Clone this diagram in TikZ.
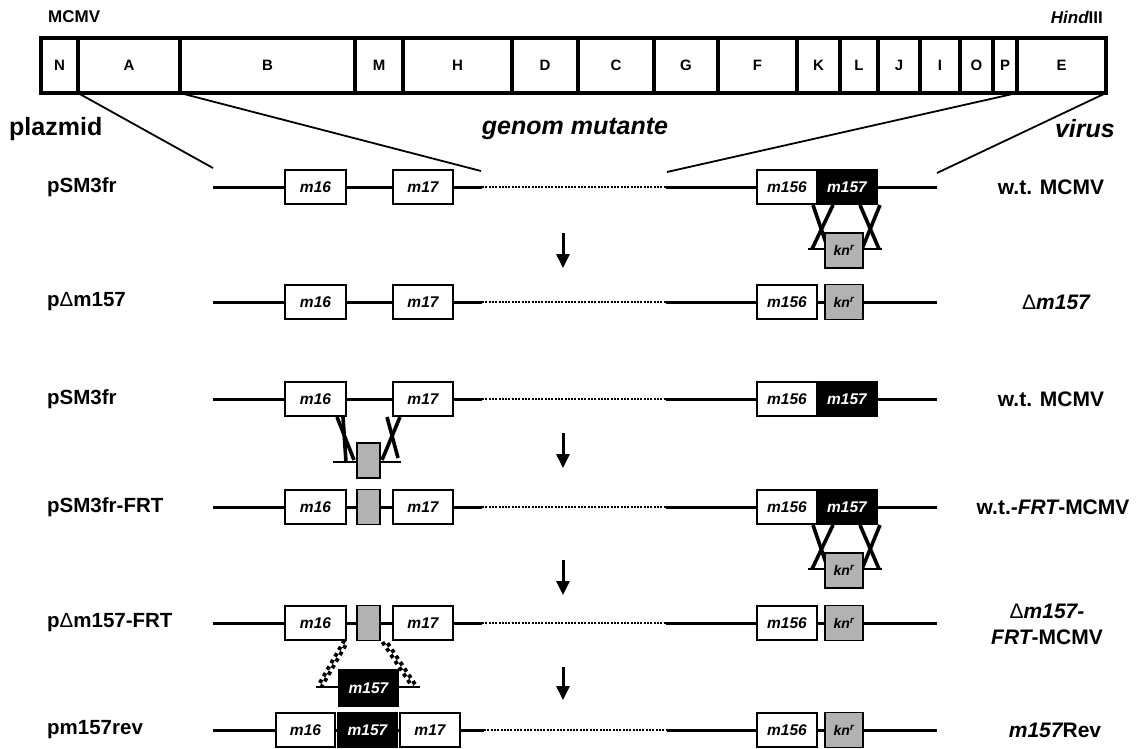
\documentclass[tikz,border=0pt]{standalone}
\usepackage{fontspec}
\setmainfont{Liberation Sans}
\usetikzlibrary{arrows.meta}
\definecolor{kngray}{RGB}{178,178,178}
\newcommand{\mybackbone}[4]{%
  \coordinate (#1a) at (213,#2);
  \coordinate (#1b) at (#3,#2);
  \coordinate (#1c) at (#4,#2);
  \coordinate (#1d) at (937,#2);
  \draw[dna] (#1a) -- (#1b);
  \draw[dnadot] (#1b) -- (#1c);
  \draw[dna] (#1c) -- (#1d);}
\newcommand{\myknxo}[2]{% #1 prefix, #2 row y
  \coordinate (#1p1) at (813,#2+18);  \coordinate (#1q1) at (828,#2+62);
  \coordinate (#1p2) at (833,#2+18);  \coordinate (#1q2) at (812,#2+62);
  \coordinate (#1p3) at (860,#2+18);  \coordinate (#1q3) at (879,#2+62);
  \coordinate (#1p4) at (880,#2+18);  \coordinate (#1q4) at (862,#2+62);
  \coordinate (#1f1) at (808,#2+62);  \coordinate (#1f2) at (826,#2+62);
  \coordinate (#1f3) at (862,#2+62);  \coordinate (#1f4) at (882,#2+62);
  \draw[xo] (#1p1) -- (#1q1); \draw[xo] (#1p2) -- (#1q2);
  \draw[xo] (#1p3) -- (#1q3); \draw[xo] (#1p4) -- (#1q4);
  \draw[flank] (#1f1) -- (#1f2); \draw[flank] (#1f3) -- (#1f4);
  \node[cass, minimum width=38pt] (#1kn) at (844,#2+63.5) {\knr};}
\newcommand{\knr}{{\itshape kn\textsuperscript{r}}}
\begin{document}
\begin{tikzpicture}[x=1pt,y=-1pt,
  seg/.style={draw, line width=3.2pt, minimum height=55pt, inner sep=0pt, outer sep=0pt,
    font=\fontsize{15}{18}\selectfont\bfseries},
  gene/.style={draw, line width=1.2pt, fill=white, minimum height=34pt, inner sep=0pt,
    font=\fontsize{15.5}{18}\selectfont\bfseries\itshape},
  geneblk/.style={gene, fill=black, text=white},
  cass/.style={draw, line width=1.2pt, fill=kngray, minimum height=35pt, inner sep=0pt,
    font=\fontsize{14}{16}\selectfont\bfseries},
  dna/.style={line width=3pt},
  dnadot/.style={line width=2.6pt, dash pattern=on 2pt off 1.3pt},
  zoomline/.style={line width=1.8pt},
  xo/.style={line width=3.6pt},
  flank/.style={line width=2.2pt},
  checker/.style={line width=3.8pt, dash pattern=on 3.8pt off 3.8pt},
  checkertwo/.style={checker, dash phase=3.8pt},
  stepar/.style={line width=3pt, -{Triangle[length=14pt,width=13pt]}},
  lbl/.style={font=\fontsize{20.5}{24}\selectfont\bfseries, anchor=west, inner sep=0pt},
  rlbl/.style={font=\fontsize{21}{26}\selectfont\bfseries, align=center, inner sep=0pt},
  big/.style={font=\fontsize{25}{28}\selectfont\bfseries, inner sep=0pt},
  small/.style={font=\fontsize{17}{20}\selectfont\bfseries, inner sep=0pt}
]
\useasboundingbox (0,0) rectangle (1141,748);
\fill[white] (0,0) rectangle (1141,748);

% ---- top map ----
\node[small, anchor=west] (mcmv) at (48,17) {MCMV};
\node[small, anchor=east] (hind) at (1103,17) {{\itshape Hind}III};
\node[seg, minimum width=37pt]  (sN) at (59.5,65.5) {N};
\node[seg, minimum width=102pt] (sA) at (129,65.5) {A};
\node[seg, minimum width=175pt] (sB) at (267.5,65.5) {B};
\node[seg, minimum width=48pt]  (sM) at (379,65.5) {M};
\node[seg, minimum width=109pt] (sH) at (457.5,65.5) {H};
\node[seg, minimum width=66pt]  (sD) at (545,65.5) {D};
\node[seg, minimum width=76pt]  (sC) at (616,65.5) {C};
\node[seg, minimum width=64pt]  (sG) at (686,65.5) {G};
\node[seg, minimum width=79pt]  (sF) at (757.5,65.5) {F};
\node[seg, minimum width=43pt]  (sK) at (818.5,65.5) {K};
\node[seg, minimum width=38pt]  (sL) at (859,65.5) {L};
\node[seg, minimum width=42pt]  (sJ) at (899,65.5) {J};
\node[seg, minimum width=40pt]  (sI) at (940,65.5) {I};
\node[seg, minimum width=33pt]  (sO) at (976.5,65.5) {O};
\node[seg, minimum width=24pt]  (sP) at (1005,65.5) {P};
\node[seg, minimum width=89pt]  (sE) at (1061.5,65.5) {E};

\coordinate (z1) at (213,168);
\coordinate (z2) at (481,171);
\coordinate (z3) at (667,172);
\coordinate (z4) at (937,173);
\draw[zoomline] (sN.south east) -- (z1);
\draw[zoomline] (sA.south east) -- (z2);
\draw[zoomline] (sP.south east) -- (z3);
\draw[zoomline] (sE.south east) -- (z4);

\node[big, anchor=west] (plaz) at (9,129) {plazmid};
\node[big] (genom) at (575,129) {\itshape genom mutante};
\node[big, anchor=east] (virus) at (1115,129) {\itshape virus};

% ---- row 1 ----
\mybackbone{r1}{187}{482}{666}
\node[gene, minimum width=61pt] (r1m16) at (315.5,187) {m16};
\node[gene, minimum width=60pt] (r1m17) at (423,187) {m17};
\node[gene, minimum width=60pt] (r1m156) at (787,187) {m156};
\node[geneblk, minimum width=60pt] (r1m157) at (847,187) {m157};
\myknxo{r1x}{187}
\node[lbl] (l1) at (47,187) {pSM3fr};
\node[rlbl] (t1) at (1051,187) {w.t. MCMV};

\coordinate (a1s) at (563,233); \coordinate (a1e) at (563,268);
\draw[stepar] (a1s) -- (a1e);

% ---- row 2 ----
\mybackbone{r2}{302}{482}{666}
\node[gene, minimum width=61pt] (r2m16) at (315.5,302) {m16};
\node[gene, minimum width=60pt] (r2m17) at (423,302) {m17};
\node[gene, minimum width=60pt] (r2m156) at (787,302) {m156};
\node[cass, minimum width=38pt] (r2kn) at (844,302) {\knr};
\node[lbl] (l2) at (47,302) {p{\mdseries Δ}m157};
\node[rlbl] (t2) at (1056,302) {{\mdseries Δ}\itshape m157};

% ---- row 3 ----
\mybackbone{r3}{399}{482}{666}
\coordinate (c1) at (337,417); \coordinate (c2) at (354,460);
\coordinate (c3) at (343,417); \coordinate (c4) at (346,462);
\coordinate (c5) at (400,417); \coordinate (c6) at (382,460);
\coordinate (c7) at (387,417); \coordinate (c8) at (398,458);
\coordinate (c9) at (333,462); \coordinate (c10) at (358,462);
\coordinate (c11) at (379,462); \coordinate (c12) at (401,462);
\draw[xo] (c1) -- (c2); \draw[xo] (c3) -- (c4);
\draw[xo] (c5) -- (c6); \draw[xo] (c7) -- (c8);
\draw[flank] (c9) -- (c10); \draw[flank] (c11) -- (c12);
\node[cass, minimum width=23pt] (r3frt) at (368.5,460.5) {};
\node[gene, minimum width=61pt] (r3m16) at (315.5,399) {m16};
\node[gene, minimum width=60pt] (r3m17) at (423,399) {m17};
\node[gene, minimum width=60pt] (r3m156) at (787,399) {m156};
\node[geneblk, minimum width=60pt] (r3m157) at (847,399) {m157};
\node[lbl] (l3) at (47,399) {pSM3fr};
\node[rlbl] (t3) at (1051,399) {w.t. MCMV};

\coordinate (a2s) at (563,433); \coordinate (a2e) at (563,468);
\draw[stepar] (a2s) -- (a2e);

% ---- row 4 ----
\mybackbone{r4}{507}{482}{666}
\node[gene, minimum width=61pt] (r4m16) at (315.5,507) {m16};
\node[cass, minimum width=23pt] (r4frt) at (368.5,507) {};
\node[gene, minimum width=60pt] (r4m17) at (423,507) {m17};
\node[gene, minimum width=60pt] (r4m156) at (787,507) {m156};
\node[geneblk, minimum width=60pt] (r4m157) at (847,507) {m157};
\myknxo{r4x}{507}
\node[lbl] (l4) at (47,507) {pSM3fr-FRT};
\node[rlbl] (t4) at (1053,507) {w.t.-{\itshape FRT}-MCMV};

\coordinate (a3s) at (563,560); \coordinate (a3e) at (563,595);
\draw[stepar] (a3s) -- (a3e);

% ---- row 5 ----
\mybackbone{r5}{623}{482}{666}
\coordinate (k1) at (344.5,640.1); \coordinate (k2) at (318.5,685.1);
\coordinate (k3) at (347.5,641.9); \coordinate (k4) at (321.5,686.9);
\coordinate (k5) at (382.5,642);   \coordinate (k6) at (412.5,687);
\coordinate (k7) at (385.5,640);   \coordinate (k8) at (415.5,685);
\draw[checker] (k1) -- (k2); \draw[checkertwo] (k3) -- (k4);
\draw[checker] (k5) -- (k6); \draw[checkertwo] (k7) -- (k8);
\coordinate (g1) at (316,687); \coordinate (g2) at (340,687);
\coordinate (g3) at (397,687); \coordinate (g4) at (420,687);
\draw[flank] (g1) -- (g2); \draw[flank] (g3) -- (g4);
\node[geneblk, minimum width=59pt, minimum height=37pt] (r5ins) at (368.5,688) {m157};
\node[gene, minimum width=61pt] (r5m16) at (315.5,623) {m16};
\node[cass, minimum width=23pt] (r5frt) at (368.5,623) {};
\node[gene, minimum width=60pt] (r5m17) at (423,623) {m17};
\node[gene, minimum width=60pt] (r5m156) at (787,623) {m156};
\node[cass, minimum width=38pt] (r5kn) at (844,623) {\knr};
\node[lbl] (l5) at (47,623) {p{\mdseries Δ}m157-FRT};
\node[rlbl] (t5) at (1047,624) {{\mdseries Δ}{\itshape m157-}\\{\itshape FRT}-MCMV};

\coordinate (a4s) at (563,667); \coordinate (a4e) at (563,700);
\draw[stepar] (a4s) -- (a4e);

% ---- row 6 ----
\mybackbone{r6}{730}{484}{667}
\node[gene, minimum width=59pt] (r6m16) at (305.5,730) {m16};
\node[geneblk, minimum width=59pt] (r6m157) at (367.5,730) {m157};
\node[gene, minimum width=60pt] (r6m17) at (430,730) {m17};
\node[gene, minimum width=60pt] (r6m156) at (787,730) {m156};
\node[cass, minimum width=38pt] (r6kn) at (844,730) {\knr};
\node[lbl] (l6) at (47,730) {pm157rev};
\node[rlbl] (t6) at (1055,730) {{\itshape m157}Rev};
\end{tikzpicture}
\end{document}
